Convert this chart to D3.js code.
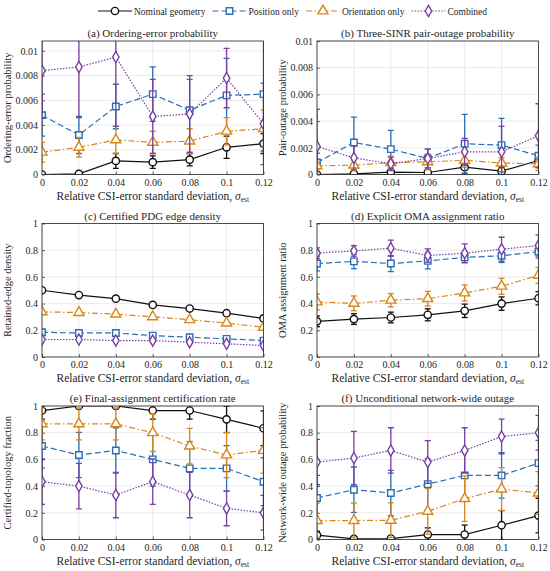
<!DOCTYPE html>
<html>
<head>
<meta charset="utf-8">
<script src="https://cdn.jsdelivr.net/npm/d3@7"></script>
<style>
  body { margin: 0; background: #fff; }
  svg { display: block; }
  text { font-family: "Liberation Serif", "Times New Roman", serif; fill: #262626; }
</style>
</head>
<body>
<svg id="fig" width="550" height="571"></svg>
<script>
const sigmaEst = [0, 0.02, 0.04, 0.06, 0.08, 0.1, 0.12];
const xTickLabels = ["0", "0.02", "0.04", "0.06", "0.08", "0.1", "0.12"];
const seriesNames = ["Nominal geometry", "Position only", "Orientation only", "Combined"];
const panelTitles = [
  "(a) Ordering-error probability",
  "(b) Three-SINR pair-outage probability",
  "(c) Certified PDG edge density",
  "(d) Explicit OMA assignment ratio",
  "(e) Final-assignment certification rate",
  "(f) Unconditional network-wide outage"
];
const yAxisLabels = [
  "Ordering-error probability",
  "Pair-outage probability",
  "Retained-edge density",
  "OMA assignment ratio",
  "Certified-topology fraction",
  "Network-wide outage probability"
];
const probTicks = [0, 0.002, 0.004, 0.006, 0.008, 0.01];
const probTickLabels = ["0", "0.002", "0.004", "0.006", "0.008", "0.01"];
const fracTicks = [0, 0.2, 0.4, 0.6, 0.8, 1];
const fracTickLabels = ["0", "0.2", "0.4", "0.6", "0.8", "1"];

// rows: nominal, position, orientation, combined
const orderErrMean = [
  [0, 0.00005, 0.0011, 0.001, 0.0012, 0.0022, 0.0025],
  [0.0048, 0.0032, 0.0055, 0.0065, 0.0052, 0.0064, 0.0065],
  [0.0018, 0.0022, 0.0028, 0.0026, 0.0027, 0.0035, 0.0037],
  [0.0084, 0.0087, 0.0095, 0.0047, 0.0049, 0.0078, 0.0041]
];
const orderErrStd = [
  [0, 0, 0.0006, 0.0005, 0.0005, 0.0009, 0.0008],
  [0.0017, 0.0015, 0.0018, 0.0022, 0.0025, 0.003, 0.0046],
  [0.0008, 0.0008, 0.0011, 0.0009, 0.001, 0.0011, 0.0015],
  [0.0038, 0.0041, 0.0056, 0.003, 0.0031, 0.0024, 0.0033]
];
const pairOutMean = [
  [0, 0.00005, 0.00018, 0.00015, 0.00055, 0.00025, 0.00105],
  [0.0009, 0.0024, 0.0019, 0.0012, 0.0023, 0.0022, 0.0014],
  [0.00065, 0.0007, 0.00088, 0.00095, 0.00106, 0.00086, 0.0008],
  [0.0021, 0.00125, 0.0008, 0.0012, 0.0017, 0.0017, 0.0029]
];
const pairOutStd = [
  [0, 0.0001, 0.0002, 0.0002, 0.0005, 0.0003, 0.0005],
  [0.0007, 0.0019, 0.0014, 0.0007, 0.0022, 0.002, 0.0008],
  [0.0003, 0.0004, 0.0005, 0.0006, 0.0005, 0.0004, 0.0005],
  [0.0028, 0.0009, 0.0005, 0.0007, 0.001, 0.0019, 0.0024]
];
const edgeDensMean = [
  [0.50, 0.464, 0.437, 0.39, 0.363, 0.328, 0.289],
  [0.185, 0.18, 0.18, 0.16, 0.148, 0.136, 0.123],
  [0.338, 0.333, 0.321, 0.301, 0.279, 0.254, 0.222],
  [0.131, 0.131, 0.123, 0.123, 0.111, 0.099, 0.086]
];
const edgeDensStd = [
  [0.005, 0.005, 0.005, 0.005, 0.005, 0.005, 0.005],
  [0.005, 0.005, 0.005, 0.005, 0.005, 0.005, 0.005],
  [0.005, 0.005, 0.005, 0.005, 0.005, 0.005, 0.005],
  [0.005, 0.005, 0.005, 0.005, 0.005, 0.005, 0.005]
];
const omaRatioMean = [
  [0.267, 0.284, 0.296, 0.316, 0.346, 0.40, 0.44],
  [0.70, 0.716, 0.70, 0.72, 0.746, 0.758, 0.79],
  [0.412, 0.402, 0.425, 0.437, 0.48, 0.53, 0.612],
  [0.778, 0.795, 0.815, 0.76, 0.778, 0.807, 0.835]
];
const omaRatioStd = [
  [0.04, 0.04, 0.04, 0.045, 0.05, 0.05, 0.05],
  [0.055, 0.055, 0.06, 0.06, 0.04, 0.05, 0.05],
  [0.06, 0.055, 0.05, 0.055, 0.06, 0.06, 0.06],
  [0.04, 0.04, 0.06, 0.05, 0.07, 0.09, 0.08]
];
const certRateMean = [
  [0.966, 1, 1, 0.966, 0.966, 0.9, 0.833],
  [0.70, 0.633, 0.667, 0.60, 0.533, 0.533, 0.433],
  [0.866, 0.866, 0.866, 0.80, 0.70, 0.633, 0.667],
  [0.433, 0.40, 0.333, 0.433, 0.333, 0.233, 0.20]
];
const certRateStd = [
  [0.065, 0, 0, 0.065, 0.065, 0.1, 0.13],
  [0.165, 0.17, 0.17, 0.2, 0.2, 0.17, 0.18],
  [0.12, 0.12, 0.12, 0.14, 0.133, 0.17, 0.17],
  [0.17, 0.17, 0.17, 0.17, 0.17, 0.13, 0.13]
];
const netOutMean = [
  [0.033, 0.005, 0.007, 0.037, 0.037, 0.107, 0.179],
  [0.311, 0.373, 0.348, 0.415, 0.48, 0.48, 0.572],
  [0.142, 0.142, 0.144, 0.211, 0.306, 0.378, 0.348],
  [0.58, 0.61, 0.667, 0.58, 0.667, 0.771, 0.80]
];
const netOutStd = [
  [0.03, 0.005, 0.007, 0.05, 0.07, 0.11, 0.13],
  [0.17, 0.17, 0.17, 0.19, 0.19, 0.17, 0.17],
  [0.13, 0.13, 0.13, 0.17, 0.17, 0.16, 0.16],
  [0.17, 0.2, 0.17, 0.16, 0.17, 0.13, 0.13]
];

const colors = ["#111111", "#2a6fb4", "#d9861c", "#7a3fa5"];
const dashes = [null, "6,3", "6,2.5,1.5,2.5", "1.5,1.5"];
const markerShapes = [d3.symbolCircle, d3.symbolSquare, d3.symbolTriangle, d3.symbolDiamond];
const markerSizes = [42, 42, 44, 36];

const svg = d3.select("#fig");
const colX = [42, 317];
const plotW = 221.5;
const rowY = [41, 223.5, 406];
const plotH = 133.5;

const panels = [
  { mean: orderErrMean, std: orderErrStd, yMax: 0.0108, ticks: probTicks, labels: probTickLabels },
  { mean: pairOutMean, std: pairOutStd, yMax: 0.01, ticks: probTicks, labels: probTickLabels },
  { mean: edgeDensMean, std: edgeDensStd, yMax: 1, ticks: fracTicks, labels: fracTickLabels },
  { mean: omaRatioMean, std: omaRatioStd, yMax: 1, ticks: fracTicks, labels: fracTickLabels },
  { mean: certRateMean, std: certRateStd, yMax: 1, ticks: fracTicks, labels: fracTickLabels },
  { mean: netOutMean, std: netOutStd, yMax: 1, ticks: fracTicks, labels: fracTickLabels }
];

panels.forEach((p, i) => {
  const left = colX[i % 2];
  const top = rowY[Math.floor(i / 2)];
  const x = d3.scaleLinear().domain([0, 0.12]).range([0, plotW]);
  const y = d3.scaleLinear().domain([0, p.yMax]).range([plotH, 0]);

  const g = svg.append("g").attr("transform", `translate(${left},${top})`);

  g.append("clipPath").attr("id", "clip" + i)
    .append("rect").attr("width", plotW).attr("height", plotH);

  // grid
  g.append("g").selectAll("line.vg").data(sigmaEst).join("line")
    .attr("x1", d => x(d)).attr("x2", d => x(d))
    .attr("y1", 0).attr("y2", plotH)
    .attr("stroke", "#dcdcdc").attr("stroke-width", 0.6);
  g.append("g").selectAll("line.hg").data(p.ticks).join("line")
    .attr("x1", 0).attr("x2", plotW)
    .attr("y1", d => y(d)).attr("y2", d => y(d))
    .attr("stroke", "#dcdcdc").attr("stroke-width", 0.6);

  // axes
  const xAxis = d3.axisBottom(x).tickValues(sigmaEst)
    .tickFormat((d, k) => xTickLabels[k]).tickSizeInner(-3).tickSizeOuter(0).tickPadding(4);
  const yAxis = d3.axisLeft(y).tickValues(p.ticks)
    .tickFormat((d, k) => p.labels[k]).tickSizeInner(-3).tickSizeOuter(0).tickPadding(4);
  const xg = g.append("g").attr("transform", `translate(0,${plotH})`).call(xAxis);
  const yg = g.append("g").call(yAxis);
  [xg, yg].forEach(a => {
    a.select(".domain").remove();
    a.selectAll(".tick line").attr("stroke", "#262626").attr("stroke-width", 0.7);
    a.selectAll(".tick text").attr("font-size", 10)
      .style("font-family", '"Liberation Serif", serif').attr("fill", "#262626");
  });

  // series
  const plot = g.append("g").attr("clip-path", `url(#clip${i})`);
  const line = d3.line().x((d, k) => x(sigmaEst[k])).y(d => y(d));
  p.mean.forEach((vals, s) => {
    const sg = plot.append("g");
    // error bars
    vals.forEach((v, k) => {
      const e = p.std[s][k];
      const cx = x(sigmaEst[k]);
      sg.append("line").attr("x1", cx).attr("x2", cx)
        .attr("y1", y(v - e)).attr("y2", y(v + e))
        .attr("stroke", colors[s]).attr("stroke-width", 1.3);
      [v - e, v + e].forEach(b => {
        sg.append("line").attr("x1", cx - 3).attr("x2", cx + 3)
          .attr("y1", y(b)).attr("y2", y(b))
          .attr("stroke", colors[s]).attr("stroke-width", 1.3);
      });
    });
    sg.append("path").datum(vals).attr("d", line)
      .attr("fill", "none").attr("stroke", colors[s]).attr("stroke-width", 1.2)
      .attr("stroke-dasharray", dashes[s]);
    sg.selectAll("path.mk").data(vals).join("path")
      .attr("class", "mk")
      .attr("transform", (d, k) => `translate(${x(sigmaEst[k])},${y(d)})`)
      .attr("d", d3.symbol().type(markerShapes[s]).size(markerSizes[s]))
      .attr("fill", "#fff").attr("stroke", colors[s]).attr("stroke-width", 1.4);
  });

  // box
  g.append("rect").attr("width", plotW).attr("height", plotH)
    .attr("fill", "none").attr("stroke", "#262626").attr("stroke-width", 0.8);

  // title
  g.append("text").attr("x", plotW / 2).attr("y", -4)
    .attr("text-anchor", "middle").attr("font-size", 11)
    .text(panelTitles[i]);

  // y label
  g.append("text")
    .attr("transform", `translate(-31,${plotH / 2}) rotate(-90)`)
    .attr("text-anchor", "middle").attr("font-size", 10.5)
    .text(yAxisLabels[i]);

  // x label
  const xl = g.append("text").attr("x", plotW / 2).attr("y", plotH + 25)
    .attr("text-anchor", "middle").attr("font-size", 11.5);
  xl.append("tspan").text("Relative CSI-error standard deviation, ");
  xl.append("tspan").attr("font-style", "italic").text("\u03c3");
  xl.append("tspan").attr("font-size", 7.5).attr("dy", 2).text("est");
});

// legend
const leg = svg.append("g").attr("transform", "translate(0,11)");
let lx = 98;
seriesNames.forEach((name, s) => {
  const it = leg.append("g").attr("transform", `translate(${lx},0)`);
  it.append("line").attr("x1", 0).attr("x2", 34).attr("y1", 0).attr("y2", 0)
    .attr("stroke", colors[s]).attr("stroke-width", 1.2).attr("stroke-dasharray", dashes[s]);
  it.append("path").attr("transform", "translate(17,0)")
    .attr("d", d3.symbol().type(markerShapes[s]).size(markerSizes[s]))
    .attr("fill", "#fff").attr("stroke", colors[s]).attr("stroke-width", 1.4);
  const t = it.append("text").attr("x", 36).attr("y", 3.5).attr("font-size", 9.5).text(name);
  lx += 36 + t.node().getComputedTextLength() + 7;
});
</script>
</body>
</html>
